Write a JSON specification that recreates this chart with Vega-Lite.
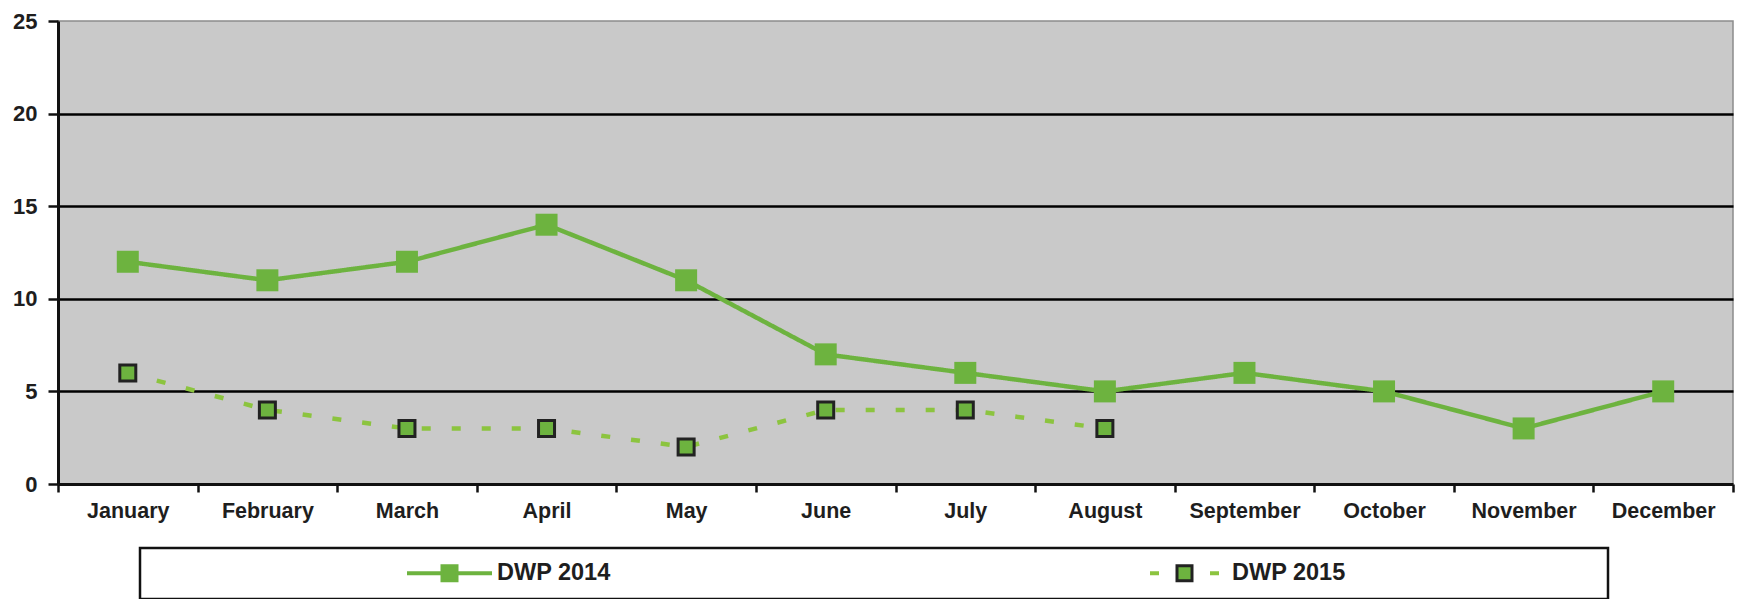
{
  "$schema": "https://vega.github.io/schema/vega-lite/v6.json",
  "width": 1675,
  "height": 463,
  "autosize": {"type": "none"},
  "padding": {"left": 58, "top": 21, "right": 6, "bottom": 115},
  "background": "white",
  "config": {
    "view": {"fill": "#c9c9c9", "stroke": "#8c8c8c", "strokeWidth": 1.5},
    "font": "Liberation Sans"
  },
  "data": {
    "values": [
      {"month": "January", "series": "DWP 2014", "value": 12},
      {"month": "February", "series": "DWP 2014", "value": 11},
      {"month": "March", "series": "DWP 2014", "value": 12},
      {"month": "April", "series": "DWP 2014", "value": 14},
      {"month": "May", "series": "DWP 2014", "value": 11},
      {"month": "June", "series": "DWP 2014", "value": 7},
      {"month": "July", "series": "DWP 2014", "value": 6},
      {"month": "August", "series": "DWP 2014", "value": 5},
      {"month": "September", "series": "DWP 2014", "value": 6},
      {"month": "October", "series": "DWP 2014", "value": 5},
      {"month": "November", "series": "DWP 2014", "value": 3},
      {"month": "December", "series": "DWP 2014", "value": 5},
      {"month": "January", "series": "DWP 2015", "value": 6},
      {"month": "February", "series": "DWP 2015", "value": 4},
      {"month": "March", "series": "DWP 2015", "value": 3},
      {"month": "April", "series": "DWP 2015", "value": 3},
      {"month": "May", "series": "DWP 2015", "value": 2},
      {"month": "June", "series": "DWP 2015", "value": 4},
      {"month": "July", "series": "DWP 2015", "value": 4},
      {"month": "August", "series": "DWP 2015", "value": 3}
    ]
  },
  "encoding": {
    "x": {
      "field": "month",
      "type": "nominal",
      "sort": ["January", "February", "March", "April", "May", "June", "July", "August", "September", "October", "November", "December"],
      "bandPosition": 0.5,
      "scale": {"type": "band", "paddingInner": 0, "paddingOuter": 0},
      "axis": {
        "title": null,
        "labelAngle": 0,
        "tickBand": "extent",
        "tickSize": 8,
        "tickWidth": 2.5,
        "tickColor": "#111111",
        "domainColor": "#111111",
        "domainWidth": 3,
        "labelFontSize": 21.5,
        "labelFontWeight": "bold",
        "labelColor": "#1e1e1e",
        "labelPadding": 8,
        "grid": false
      }
    },
    "y": {
      "field": "value",
      "type": "quantitative",
      "scale": {"domain": [0, 25], "nice": false},
      "axis": {
        "title": null,
        "values": [0, 5, 10, 15, 20, 25],
        "grid": true,
        "gridColor": "#000000",
        "gridWidth": 2.5,
        "gridOpacity": {"condition": {"test": "datum.value === 0 || datum.value === 25", "value": 0}, "value": 1},
        "domainColor": "#111111",
        "domainWidth": 3,
        "tickColor": "#111111",
        "tickWidth": 2.5,
        "tickSize": 10,
        "labelFontSize": 22,
        "labelFontWeight": "bold",
        "labelColor": "#1e1e1e",
        "labelPadding": 11
      }
    }
  },
  "layer": [
    {
      "mark": {"type": "line", "strokeWidth": 4.5, "strokeCap": "butt"},
      "encoding": {
        "color": {
          "field": "series",
          "type": "nominal",
          "scale": {"range": ["#6db33f", "#8cc43f"]},
          "legend": {
            "title": " ",
            "orient": "none",
            "legendX": 82,
            "legendY": 527,
            "direction": "horizontal",
            "padding": 14,
            "strokeColor": "#111111",
            "symbolType": "stroke",
            "symbolSize": 7225,
            "symbolStrokeWidth": 4,
            "symbolOffset": 251,
            "labelOffset": 3,
            "labelFontSize": 23.5,
            "labelFontWeight": "bold",
            "labelColor": "#1e1e1e",
            "labelLimit": 300,
            "columnPadding": 278,
            "clipHeight": 22,
            "titleOrient": "right",
            "titlePadding": 248,
            "titleFontSize": 2,
            "zindex": 0,
            "encode": {
              "symbols": {"update": {"size": {"signal": "datum.value === 'DWP 2015' ? 4761 : 7225"}}},
              "legend": {"update": {"strokeWidth": {"value": 2.5}}}
            }
          }
        },
        "strokeDash": {
          "field": "series",
          "type": "nominal",
          "scale": {"range": [[1, 0], [9, 21]]},
          "legend": {
            "title": " ",
            "orient": "none",
            "legendX": 82,
            "legendY": 527,
            "direction": "horizontal",
            "padding": 14,
            "strokeColor": "#111111",
            "symbolType": "stroke",
            "symbolSize": 7225,
            "symbolStrokeWidth": 4,
            "symbolOffset": 251,
            "labelOffset": 3,
            "labelFontSize": 23.5,
            "labelFontWeight": "bold",
            "labelColor": "#1e1e1e",
            "labelLimit": 300,
            "columnPadding": 278,
            "clipHeight": 22,
            "titleOrient": "right",
            "titlePadding": 248,
            "titleFontSize": 2,
            "zindex": 0,
            "encode": {
              "symbols": {"update": {"size": {"signal": "datum.value === 'DWP 2015' ? 4761 : 7225"}}},
              "legend": {"update": {"strokeWidth": {"value": 2.5}}}
            }
          }
        }
      }
    },
    {
      "mark": {"type": "point", "shape": "square", "filled": true, "fill": "#6db33f", "size": 256, "strokeWidth": 3, "opacity": 1},
      "encoding": {
        "stroke": {
          "field": "series",
          "type": "nominal",
          "scale": {"domain": ["DWP 2014", "DWP 2015"], "range": ["#6db33f", "#222222"]},
          "legend": {
            "title": null,
            "orient": "none",
            "legendX": 82,
            "legendY": 527,
            "direction": "horizontal",
            "padding": 14,
            "symbolType": "square",
            "symbolSize": 225,
            "symbolStrokeWidth": 3,
            "symbolFillColor": "#6db33f",
            "symbolOffset": 283.75,
            "labelOffset": 162.75,
            "labelOpacity": 0,
            "labelFontSize": 23.5,
            "labelFontWeight": "bold",
            "labelLimit": 300,
            "columnPadding": 151,
            "clipHeight": 22,
            "zindex": 1,
            "encode": {"symbols": {"update": {"fill": {"value": "#6db33f"}, "opacity": {"value": 1}}}}
          }
        }
      }
    },
    {
      "transform": [{"filter": "datum.series == 'DWP 2014'"}],
      "mark": {"type": "point", "shape": "square", "filled": true, "color": "#6db33f", "size": 484, "opacity": 1}
    }
  ]
}
